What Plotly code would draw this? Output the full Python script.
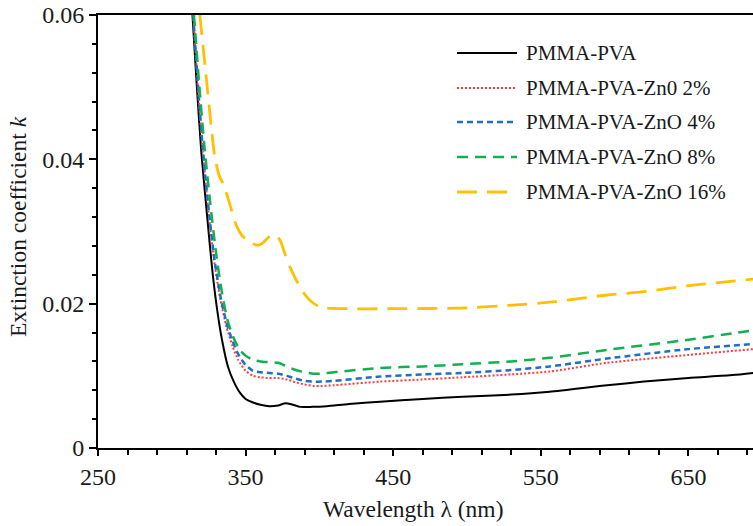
import plotly.graph_objects as go

# Wavelength (nm) and extinction coefficient k for each film
black_x = [314, 317, 320, 324, 327.5, 330.5, 334, 338, 342, 346, 350, 355, 360, 366, 372, 377, 382, 387, 395, 405, 420, 441, 470, 497, 530, 556, 595, 620, 650, 680, 694]
black_k = [0.060, 0.050, 0.041, 0.032, 0.0245, 0.0195, 0.0150, 0.0113, 0.0092, 0.0077, 0.0068, 0.0063, 0.0060, 0.0058, 0.0059, 0.0062, 0.0060, 0.0057, 0.0057, 0.0058, 0.0061, 0.0064, 0.0068, 0.0071, 0.0074, 0.0078, 0.0087, 0.0092, 0.0097, 0.0101, 0.0104]

red_x = [314.5, 318, 321, 325, 329, 333, 337, 341, 345, 350, 355, 360, 366, 372, 378, 384, 390, 396, 402, 410, 441, 470, 497, 530, 556, 595, 650, 694]
red_k = [0.060, 0.049, 0.041, 0.0325, 0.0255, 0.0205, 0.0168, 0.0142, 0.0122, 0.0107, 0.0100, 0.0098, 0.0097, 0.0097, 0.0095, 0.0091, 0.0088, 0.0086, 0.0086, 0.0087, 0.0092, 0.0095, 0.0098, 0.0102, 0.0106, 0.0118, 0.0129, 0.0137]

blue_x = [314.5, 318, 321, 325, 329, 333, 337, 341, 345, 350, 355, 360, 366, 372, 378, 384, 390, 396, 402, 410, 441, 470, 497, 530, 556, 595, 650, 694]
blue_k = [0.060, 0.0495, 0.0415, 0.033, 0.026, 0.021, 0.0174, 0.0149, 0.0130, 0.0115, 0.0107, 0.0105, 0.0104, 0.0103, 0.0100, 0.0096, 0.0093, 0.0092, 0.0092, 0.0093, 0.0099, 0.0102, 0.0104, 0.0108, 0.0113, 0.0124, 0.0137, 0.0144]

green_x = [315, 318.5, 322, 326, 330, 334, 338, 342, 346, 350, 355, 360, 366, 372, 378, 384, 390, 396, 402, 410, 441, 470, 497, 530, 556, 595, 650, 680, 694]
green_k = [0.060, 0.0505, 0.042, 0.034, 0.027, 0.0215, 0.0175, 0.0152, 0.0136, 0.0128, 0.0122, 0.0120, 0.0119, 0.0118, 0.0113, 0.0108, 0.0105, 0.0103, 0.0103, 0.0105, 0.0111, 0.0113, 0.0116, 0.0120, 0.0125, 0.0136, 0.0150, 0.0159, 0.0163]

yellow_x = [319, 323, 327, 329, 332, 335, 339, 343, 347, 351, 355, 358, 361, 364, 367, 369.5, 372, 374, 377, 380, 385, 390, 395, 400, 405, 420, 450, 497, 531, 556, 595, 622, 650, 694]
yellow_k = [0.060, 0.052, 0.044, 0.0405, 0.0378, 0.0365, 0.034, 0.0312, 0.0296, 0.0288, 0.0283, 0.0281, 0.0283, 0.0289, 0.0294, 0.0295, 0.0292, 0.0285, 0.0267, 0.0251, 0.0230, 0.0213, 0.0202, 0.0196, 0.0194, 0.0193, 0.0193, 0.0194, 0.0198, 0.0202, 0.0212, 0.0217, 0.0225, 0.0234]

names = ["PMMA-PVA", "PMMA-PVA-Zn0 2%", "PMMA-PVA-ZnO 4%", "PMMA-PVA-ZnO 8%", "PMMA-PVA-ZnO 16%"]

x_ticks = [250, 350, 450, 550, 650]
y_ticks = [0, 0.02, 0.04, 0.06]

FONT = "Liberation Serif"
TEXT = "#1a1a1a"

series = [
    (black_x, black_k, dict(color="#000000", width=2, dash="solid")),
    (red_x, red_k, dict(color="#FF3B3B", width=2, dash="2px,2px")),
    (blue_x, blue_k, dict(color="#1F6FC5", width=2.5, dash="6px,4px")),
    (green_x, green_k, dict(color="#12B050", width=2.5, dash="11px,7px")),
    (yellow_x, yellow_k, dict(color="#FFC000", width=2.8, dash="20px,10px")),
]

fig = go.Figure()
for (xs, ks, style), name in zip(series, names):
    fig.add_trace(go.Scatter(
        x=xs, y=ks, mode="lines", name=name,
        line=dict(shape="spline", smoothing=0.6, **style),
        showlegend=False,
    ))

# Hand-built legend: sample line + label for each series
L, R = 98, 753
T, B = 15, 448
def px_x(p):
    return (p - L) / (R - L)
def px_y(p):
    return (B - p) / (B - T)

rows = [53, 88, 122, 157, 192]
shapes = []
annotations = []
for (xs, ks, style), name, ry in zip(series, names, rows):
    shapes.append(dict(
        type="line", xref="paper", yref="paper",
        x0=px_x(457), x1=px_x(517), y0=px_y(ry), y1=px_y(ry),
        line=dict(color=style["color"], width=style["width"], dash=style["dash"]),
    ))
    annotations.append(dict(
        xref="paper", yref="paper", x=px_x(524), y=px_y(ry),
        xanchor="left", yanchor="middle", showarrow=False,
        text=name, font=dict(family=FONT, size=21, color=TEXT),
    ))

# Axis titles
annotations.append(dict(
    xref="paper", yref="paper", x=px_x(413), y=px_y(509),
    xanchor="center", yanchor="middle", showarrow=False,
    text="Wavelength λ (nm)", font=dict(family=FONT, size=23.5, color=TEXT),
))
annotations.append(dict(
    xref="paper", yref="paper", x=px_x(18), y=px_y(227),
    xanchor="center", yanchor="middle", showarrow=False, textangle=-90,
    text="Extinction coefficient <i>k</i>", font=dict(family=FONT, size=23.5, color=TEXT),
))

fig.update_layout(
    width=753, height=526,
    margin=dict(l=L, r=753 - R, t=T, b=526 - B, pad=0),
    paper_bgcolor="white", plot_bgcolor="white",
    font=dict(family=FONT, size=24, color=TEXT),
    shapes=shapes, annotations=annotations,
    showlegend=False,
)
fig.update_xaxes(
    range=[250, 250 + (R - L) / 1.476],
    tickmode="array", tickvals=x_ticks, ticktext=[str(v) for v in x_ticks],
    ticks="outside", ticklen=6, tickwidth=1.5, tickcolor="#000",
    minor=dict(dtick=20, tick0=250, ticks="outside", ticklen=5, tickwidth=1.5, tickcolor="#000"),
    showline=True, linecolor="#000", linewidth=2, mirror=True,
    showgrid=False, zeroline=False,
    tickfont=dict(family=FONT, size=24, color=TEXT),
)
fig.update_yaxes(
    range=[0, 0.06],
    tickmode="array", tickvals=y_ticks, ticktext=["0", "0.02", "0.04", "0.06"],
    ticks="outside", ticklen=7, tickwidth=1.5, tickcolor="#000",
    minor=dict(dtick=0.004, tick0=0, ticks="outside", ticklen=4, tickwidth=1.5, tickcolor="#000"),
    showline=True, linecolor="#000", linewidth=2,
    showgrid=False, zeroline=False,
    tickfont=dict(family=FONT, size=24, color=TEXT),
)

fig.write_html("out.html")
